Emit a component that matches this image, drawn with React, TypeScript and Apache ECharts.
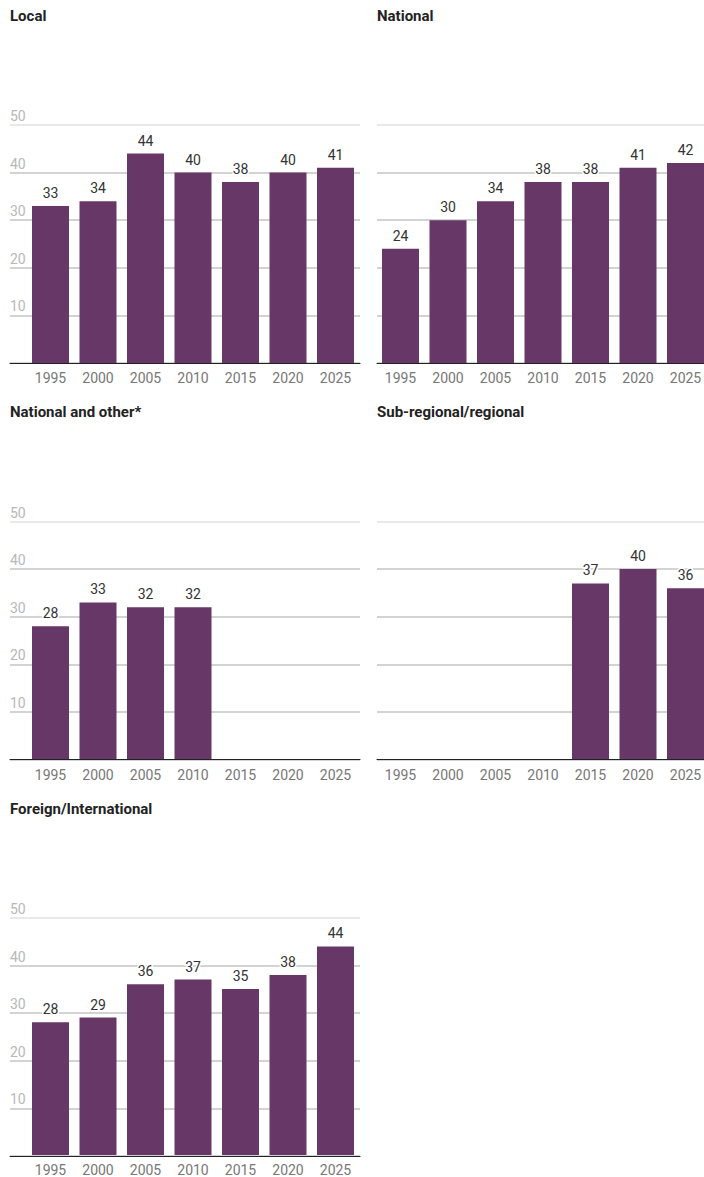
import React, { useEffect, useRef } from "react";
import * as echarts from "echarts";

const years = ["1995", "2000", "2005", "2010", "2015", "2020", "2025"];
const localValues = [33, 34, 44, 40, 38, 40, 41];
const nationalValues = [24, 30, 34, 38, 38, 41, 42];
const nationalOtherValues = [28, 33, 32, 32, null, null, null];
const regionalValues = [null, null, null, null, 37, 40, 36];
const foreignValues = [28, 29, 36, 37, 35, 38, 44];
const yTicks = [0, 10, 20, 30, 40, 50];

const panels = [
  { title: "Local", data: localValues, col: 0, row: 0 },
  { title: "National", data: nationalValues, col: 1, row: 0 },
  { title: "National and other*", data: nationalOtherValues, col: 0, row: 1 },
  { title: "Sub-regional/regional", data: regionalValues, col: 1, row: 1 },
  { title: "Foreign/International", data: foreignValues, col: 0, row: 2 },
];

const FONT = "Roboto, 'Noto Sans', sans-serif";
const rowTops = [125, 521.5, 918];
const plotHeight = 238;

export default function App() {
  const ref = useRef<HTMLDivElement>(null);
  useEffect(() => {
    if (!ref.current) return;
    const chart = echarts.init(ref.current, null, { renderer: "svg" });
    const title: any[] = [];
    const grid: any[] = [];
    const xAxis: any[] = [];
    const yAxis: any[] = [];
    const series: any[] = [];
    panels.forEach((p, i) => {
      const top = rowTops[p.row];
      const bgLeft = p.col === 0 ? 10 : 377;
      const bgWidth = p.col === 0 ? 350 : 332.5;
      const barLeft = p.col === 0 ? 26.75 : 376.75;
      title.push({
        text: p.title,
        left: bgLeft,
        top: top - 117,
        padding: 0,
        textStyle: { fontSize: 15, fontWeight: "bold", color: "#222", fontFamily: FONT },
      });
      grid.push({ left: bgLeft, top, width: bgWidth, height: plotHeight });
      grid.push({ left: barLeft, top, width: 332.5, height: plotHeight });
      xAxis.push({
        gridIndex: 2 * i,
        type: "value",
        min: 0,
        max: 1,
        z: 5,
        axisLine: { show: true, lineStyle: { color: "#222", width: 1 } },
        axisLabel: { show: false },
        axisTick: { show: false },
        splitLine: { show: false },
      });
      yAxis.push({
        gridIndex: 2 * i,
        type: "value",
        min: yTicks[0],
        max: yTicks[yTicks.length - 1],
        interval: 10,
        axisLine: { show: false },
        axisTick: { show: false },
        splitLine: {
          show: true,
          lineStyle: {
            color: ["#c4c4c4", "#c4c4c4", "#c4c4c4", "#c4c4c4", "#c4c4c4", "#e2e2e2"],
            width: 1.5,
          },
        },
        axisLabel:
          p.col === 0
            ? {
                show: true,
                inside: true,
                margin: 0,
                showMinLabel: false,
                verticalAlign: "bottom",
                padding: [0, 0, 2, 0],
                color: "#b8b8b8",
                fontSize: 14,
                fontFamily: FONT,
              }
            : { show: false },
      });
      xAxis.push({
        gridIndex: 2 * i + 1,
        type: "category",
        data: years,
        axisLine: { show: false },
        axisTick: { show: false },
        axisLabel: { color: "#777", fontSize: 14, margin: 8, fontFamily: FONT, interval: 0 },
      });
      yAxis.push({ gridIndex: 2 * i + 1, type: "value", min: 0, max: 50, show: false });
      series.push({
        type: "bar",
        xAxisIndex: 2 * i + 1,
        yAxisIndex: 2 * i + 1,
        data: p.data,
        barWidth: 37,
        itemStyle: { color: "#673768" },
        label: {
          show: true,
          position: "top",
          distance: 6,
          color: "#333",
          fontSize: 14,
          fontFamily: FONT,
          textBorderColor: "#fff",
          textBorderWidth: 3,
        },
      });
    });
    chart.setOption({ animation: false, title, grid, xAxis, yAxis, series });
    return () => chart.dispose();
  }, []);
  return (
    <div
      style={{
        position: "absolute",
        left: 0,
        top: 0,
        width: 704,
        height: 1177,
        overflow: "hidden",
        background: "#fff",
      }}
    >
      <div ref={ref} style={{ width: 716, height: 1177 }} />
    </div>
  );
}
